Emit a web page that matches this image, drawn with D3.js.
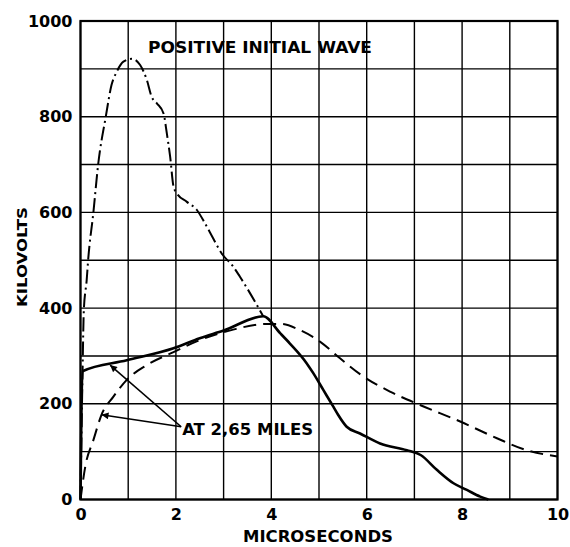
<!DOCTYPE html>
<html>
<head>
<meta charset="utf-8">
<script src="https://cdn.jsdelivr.net/npm/d3@7"></script>
<style>
  body { margin: 0; background: #fff; }
  svg { display: block; }
  text { font-family: "DejaVu Sans", sans-serif; font-weight: bold; fill: #000; }
</style>
</head>
<body>
<svg id="chart" width="570" height="547"></svg>
<script>
// ---- data ----
const xTickLabels = [0, 2, 4, 6, 8, 10];
const yTickLabels = [0, 200, 400, 600, 800, 1000];
const xGrid = [0,1,2,3,4,5,6,7,8,9,10];
const yGrid = [0,100,200,300,400,500,600,700,800,900,1000];

// dash-dot curve: positive initial wave
const initialX = [0, 0.04, 0.07, 0.13, 0.16, 0.27, 0.37, 0.53, 0.65, 0.76, 0.9, 1.08, 1.25, 1.39, 1.49, 1.6, 1.74, 1.81, 1.88, 1.95, 2.02, 2.23, 2.44, 2.61, 2.78, 2.96, 3.2, 3.34, 3.83];
const initialY = [0, 250, 396, 459, 500, 600, 700, 800, 866, 894, 915, 921, 908, 877, 842, 828, 807, 765, 716, 654, 640, 622, 605, 577, 546, 514, 487, 466, 383];

// solid curve: at 2.65 miles
const solidX = [0, 0.04, 0.97, 1.95, 2.5, 3.0, 3.83, 4.19, 4.39, 4.74, 4.88, 5.09, 5.3, 5.4, 5.58, 5.86, 6.28, 6.84, 7.13, 7.47, 7.82, 8.1, 8.38, 8.55];
const solidY = [0, 268, 291, 316, 337, 353, 383, 347, 326, 285, 264, 229, 194, 177, 152, 138, 117, 103, 93, 62, 34, 20, 6, 0];

// dashed curve: at 2.65 miles
const dashedX = [0, 0.1, 0.27, 0.44, 0.69, 0.97, 1.39, 1.95, 2.5, 3.2, 3.9, 4.2, 4.6, 5.02, 5.44, 5.93, 6.5, 7.13, 7.96, 8.73, 9.35, 10];
const dashedY = [0, 69, 124, 177, 215, 250, 281, 308, 333, 355, 367, 367, 354, 330, 295, 257, 225, 197, 163, 128, 103, 90];

// annotation: label anchor and arrow tips, in data units
const noteLabel = "AT 2,65 MILES";
const noteAnchor = [2.11, 152];
const noteTips = [[0.62, 281], [0.44, 177]];

const titleText = "POSITIVE INITIAL WAVE";
const xTitle = "MICROSECONDS";
const yTitle = "KILOVOLTS";

// ---- layout ----
const svg = d3.select("#chart");
const plotL = 80.5, plotR = 557.5, plotT = 21, plotB = 499.5;
const x = d3.scaleLinear().domain([0, 10]).range([plotL, plotR]);
const y = d3.scaleLinear().domain([0, 1000]).range([plotB, plotT]);

// defs: arrowhead
svg.append("defs").append("marker")
  .attr("id", "arrow").attr("viewBox", "0 0 10 10")
  .attr("refX", 10).attr("refY", 5)
  .attr("markerWidth", 11).attr("markerHeight", 7)
  .attr("markerUnits", "userSpaceOnUse")
  .attr("orient", "auto-start-reverse")
  .append("path").attr("d", "M0,0 L10,5 L0,10 z").attr("fill", "#000");

// grid
const g = svg.append("g");
g.selectAll("line.vg").data(xGrid).join("line")
  .attr("x1", d => x(d)).attr("x2", d => x(d))
  .attr("y1", y(0)).attr("y2", y(1000))
  .attr("stroke", "#000").attr("stroke-width", 1.4);
g.selectAll("line.hg").data(yGrid).join("line")
  .attr("x1", x(0)).attr("x2", x(10))
  .attr("y1", d => y(d)).attr("y2", d => y(d))
  .attr("stroke", "#000").attr("stroke-width", 1.4);

// border
svg.append("rect")
  .attr("x", x(0)).attr("y", y(1000))
  .attr("width", x(10) - x(0)).attr("height", y(0) - y(1000))
  .attr("fill", "none").attr("stroke", "#000").attr("stroke-width", 2.2);

// axes tick labels via d3 axes
const xAxis = d3.axisBottom(x).tickValues(xTickLabels).tickSize(0).tickPadding(9)
  .tickFormat(d3.format("d"));
const xa = svg.append("g").attr("transform", `translate(0,${plotB})`).call(xAxis);
xa.select(".domain").remove();
xa.selectAll("text").attr("font-size", 16).attr("font-family", "DejaVu Sans").attr("font-weight", "bold").attr("fill", "#000");

const yAxis = d3.axisLeft(y).tickValues(yTickLabels).tickSize(0).tickPadding(8)
  .tickFormat(d3.format("d"));
const ya = svg.append("g").attr("transform", `translate(${plotL},0)`).call(yAxis);
ya.select(".domain").remove();
ya.selectAll("text").attr("font-size", 16).attr("font-family", "DejaVu Sans").attr("font-weight", "bold").attr("fill", "#000");

// curves
const line = d3.line().x(d => x(d[0])).y(d => y(d[1])).curve(d3.curveMonotoneX);
const zip = (a, b) => a.map((v, i) => [v, b[i]]);

svg.append("path").datum(zip(dashedX, dashedY))
  .attr("d", line).attr("fill", "none").attr("stroke", "#000")
  .attr("stroke-width", 2).attr("stroke-dasharray", "13,7");

svg.append("path").datum(zip(initialX, initialY))
  .attr("d", line).attr("fill", "none").attr("stroke", "#000")
  .attr("stroke-width", 2).attr("stroke-dasharray", "14,4,2,4");

svg.append("path").datum(zip(solidX, solidY))
  .attr("d", line).attr("fill", "none").attr("stroke", "#000")
  .attr("stroke-width", 2.6);

// annotation arrows
noteTips.forEach(t => {
  svg.append("line")
    .attr("x1", x(noteAnchor[0])).attr("y1", y(noteAnchor[1]))
    .attr("x2", x(t[0])).attr("y2", y(t[1]))
    .attr("stroke", "#000").attr("stroke-width", 1.6)
    .attr("marker-end", "url(#arrow)");
});
svg.append("text")
  .attr("x", x(noteAnchor[0]) + 1).attr("y", y(noteAnchor[1]) + 8)
  .attr("font-size", 15)
  .attr("textLength", 131).attr("lengthAdjust", "spacingAndGlyphs")
  .text(noteLabel);

// title
svg.append("text")
  .attr("x", 148).attr("y", 53)
  .attr("font-size", 16)
  .attr("textLength", 224).attr("lengthAdjust", "spacingAndGlyphs")
  .text(titleText);

// axis titles
svg.append("text")
  .attr("x", 318).attr("y", 542)
  .attr("text-anchor", "middle").attr("font-size", 16)
  .attr("textLength", 150).attr("lengthAdjust", "spacingAndGlyphs")
  .text(xTitle);

svg.append("text")
  .attr("transform", "translate(27,257) rotate(-90)")
  .attr("text-anchor", "middle").attr("font-size", 14)
  .attr("textLength", 100).attr("lengthAdjust", "spacingAndGlyphs")
  .text(yTitle);
</script>
</body>
</html>
